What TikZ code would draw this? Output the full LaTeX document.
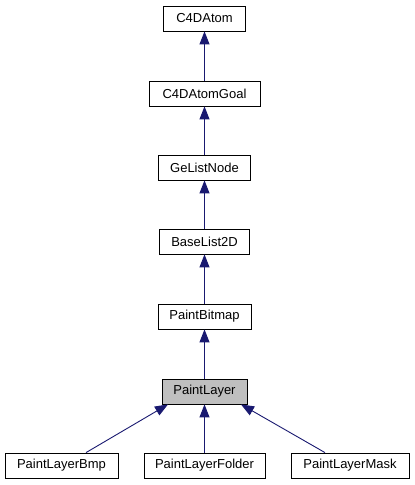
\documentclass[tikz,border=0pt]{standalone}
\usepackage{fontspec}
\setmainfont{Liberation Sans}
\usetikzlibrary{arrows.meta,calc}
\definecolor{edgeblue}{HTML}{191970}
\definecolor{boxgray}{HTML}{BFBFBF}
\tikzset{
  cls/.style={draw=black, fill=white, line width=0.8bp, minimum height=25bp, inner sep=0pt, font=\fontsize{13bp}{15bp}\selectfont},
  inh/.style={draw=edgeblue, line width=0.9bp, -{Triangle[length=13bp,width=10bp,fill=edgeblue]}}
}
\begin{document}
\begin{tikzpicture}[x=1bp,y=-1bp]
\useasboundingbox (0,0) rectangle (414,485);
\node[cls, minimum width=82bp] (atom) at (204.5,18.5) {C4DAtom};
\node[cls, minimum width=111bp] (goal) at (204.5,93.5) {C4DAtomGoal};
\node[cls, minimum width=92bp] (gelist) at (204.5,167.5) {GeListNode};
\node[cls, minimum width=90bp] (base) at (204.5,241.5) {BaseList2D};
\node[cls, minimum width=93bp] (bitmap) at (204.5,316.5) {PaintBitmap};
\node[cls, minimum width=85bp, fill=boxgray] (layer) at (204.5,391.5) {PaintLayer};
\node[cls, minimum width=113bp] (bmp) at (61.5,465.5) {PaintLayerBmp};
\node[cls, minimum width=121bp] (folder) at (204.5,465.5) {PaintLayerFolder};
\node[cls, minimum width=118bp] (mask) at (350,465.5) {PaintLayerMask};
\draw[inh] (goal.north) -- (atom.south);
\draw[inh] (gelist.north) -- (goal.south);
\draw[inh] (base.north) -- (gelist.south);
\draw[inh] (bitmap.north) -- (base.south);
\draw[inh] (layer.north) -- (bitmap.south);
\draw[inh] (folder.north) -- (layer.south);
\draw[inh] ([xshift=24.5bp]bmp.north) -- ([xshift=-36.5bp]layer.south);
\draw[inh] ([xshift=-25bp]mask.north) -- ([xshift=36.5bp]layer.south);
\end{tikzpicture}
\end{document}
